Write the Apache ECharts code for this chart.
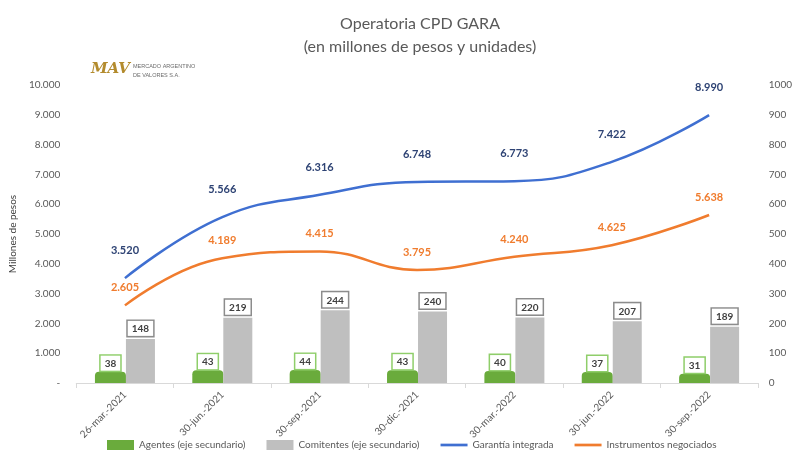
<!DOCTYPE html>
<html>
<head>
<meta charset="utf-8">
<script src="https://cdn.jsdelivr.net/npm/echarts@6/dist/echarts.min.js"></script>
<style>
  html, body { margin: 0; padding: 0; background: #fff; }
  #main { width: 795px; height: 457px; }
</style>
</head>
<body>
<div id="main"></div>
<script>
// datos del grafico
var fechas = ['26-mar.-2021', '30-jun.-2021', '30-sep.-2021', '30-dic.-2021', '30-mar.-2022', '30-jun.-2022', '30-sep.-2022']
var agentes = [38, 43, 44, 43, 40, 37, 31]
var comitentes = [148, 219, 244, 240, 220, 207, 189]
var garantia = [3520, 5566, 6316, 6748, 6773, 7422, 8990]
var instrumentos = [2605, 4189, 4415, 3795, 4240, 4625, 5638]

var fuente = 'Lato, "Open Sans", sans-serif'
var gris = '#595959'
var iconoLinea = 'path://M0,0H30V3H0Z'

// 10000 -> "10.000", 0 -> "-"
function miles(v) {
  if (v === 0) return '-'
  return String(v).replace(/\B(?=(\d{3})+(?!\d))/g, '.')
}

var chart = echarts.init(document.getElementById('main'))

var option = {
  backgroundColor: '#fff',
  textStyle: { fontFamily: fuente },
  title: {
    text: 'Operatoria CPD GARA\n(en millones de pesos y unidades)',
    left: 415,
    textAlign: 'center',
    top: 7,
    textStyle: {
      fontFamily: fuente,
      fontSize: 16,
      fontWeight: 'normal',
      color: gris,
      lineHeight: 23
    }
  },
  // logo del MAV
  graphic: [
    {
      type: 'text',
      left: 91,
      top: 62,
      style: {
        text: 'MAV',
        font: 'italic bold 15px "DejaVu Serif", serif',
        fill: '#b38b2d'
      }
    },
    {
      type: 'text',
      left: 133,
      top: 62,
      style: {
        text: 'MERCADO ARGENTINO\nDE VALORES S.A.',
        font: '5.5px "Liberation Sans Narrow", "Liberation Sans", sans-serif',
        fill: '#6b6b6b',
        lineHeight: 9
      }
    }
  ],
  legend: {
    bottom: 2,
    left: 102,
    itemWidth: 27,
    itemHeight: 10,
    itemGap: 21,
    textStyle: { color: gris, fontSize: 10, fontFamily: fuente },
    data: [
      { name: 'Agentes (eje secundario)', icon: 'rect' },
      { name: 'Comitentes (eje secundario)', icon: 'rect' },
      { name: 'Garantía integrada', icon: iconoLinea },
      { name: 'Instrumentos negociados', icon: iconoLinea }
    ]
  },
  grid: {
    left: 73,
    right: 32,
    top: 85,
    bottom: 74
  },
  xAxis: {
    type: 'category',
    data: fechas,
    axisLine: { lineStyle: { color: '#d9d9d9' } },
    axisTick: { show: true, lineStyle: { color: '#d9d9d9' } },
    axisLabel: {
      rotate: 45,
      color: gris,
      fontSize: 10,
      margin: 10
    }
  },
  yAxis: [
    {
      type: 'value',
      min: 0,
      max: 10000,
      interval: 1000,
      name: 'Millones de pesos',
      nameLocation: 'middle',
      nameRotate: 90,
      nameGap: 58,
      nameTextStyle: { color: '#404040', fontSize: 10 },
      splitLine: { show: false },
      axisLine: { show: false },
      axisTick: { show: false },
      axisLabel: {
        color: gris,
        fontSize: 10,
        margin: 16,
        formatter: miles
      }
    },
    {
      type: 'value',
      min: 0,
      max: 1000,
      interval: 100,
      splitLine: { show: false },
      axisLine: { show: false },
      axisTick: { show: false },
      axisLabel: {
        color: gris,
        fontSize: 10,
        margin: 11,
        formatter: function (v) { return String(v) }
      }
    }
  ],
  series: [
    {
      name: 'Agentes (eje secundario)',
      type: 'bar',
      yAxisIndex: 1,
      data: agentes,
      barWidth: 31,
      barGap: '0%',
      itemStyle: { color: '#6aab3c', borderRadius: [4, 4, 0, 0] },
      label: {
        show: true,
        position: 'top',
        distance: 1,
        color: '#404040',
        fontSize: 10,
        fontWeight: 'bold',
        backgroundColor: '#fff',
        borderColor: '#8fce6a',
        borderWidth: 1.5,
        padding: [3, 4, 2, 4]
      }
    },
    {
      name: 'Comitentes (eje secundario)',
      type: 'bar',
      yAxisIndex: 1,
      data: comitentes,
      barWidth: 29,
      itemStyle: { color: '#bfbfbf' },
      label: {
        show: true,
        position: 'top',
        distance: 3,
        color: '#404040',
        fontSize: 10,
        fontWeight: 'bold',
        backgroundColor: '#fff',
        borderColor: '#8c8c8c',
        borderWidth: 1.5,
        padding: [3, 4, 2, 4]
      }
    },
    {
      name: 'Garantía integrada',
      type: 'line',
      data: garantia,
      smooth: 0.45,
      symbol: 'circle',
      symbolSize: 0.1,
      showSymbol: true,
      lineStyle: { color: '#3f6fd1', width: 2.5 },
      itemStyle: { color: '#3f6fd1' },
      label: {
        show: true,
        position: 'top',
        distance: 22,
        color: '#2e4374',
        fontSize: 11,
        fontWeight: 'bold',
        formatter: function (p) { return miles(p.value) }
      }
    },
    {
      name: 'Instrumentos negociados',
      type: 'line',
      data: instrumentos,
      smooth: 0.45,
      symbol: 'circle',
      symbolSize: 0.1,
      showSymbol: true,
      lineStyle: { color: '#f07c2e', width: 2.5 },
      itemStyle: { color: '#f07c2e' },
      label: {
        show: true,
        position: 'top',
        distance: 12,
        color: '#f07c2e',
        fontSize: 11,
        fontWeight: 'bold',
        formatter: function (p) { return miles(p.value) }
      }
    }
  ]
}

chart.setOption(option)
</script>
</body>
</html>
